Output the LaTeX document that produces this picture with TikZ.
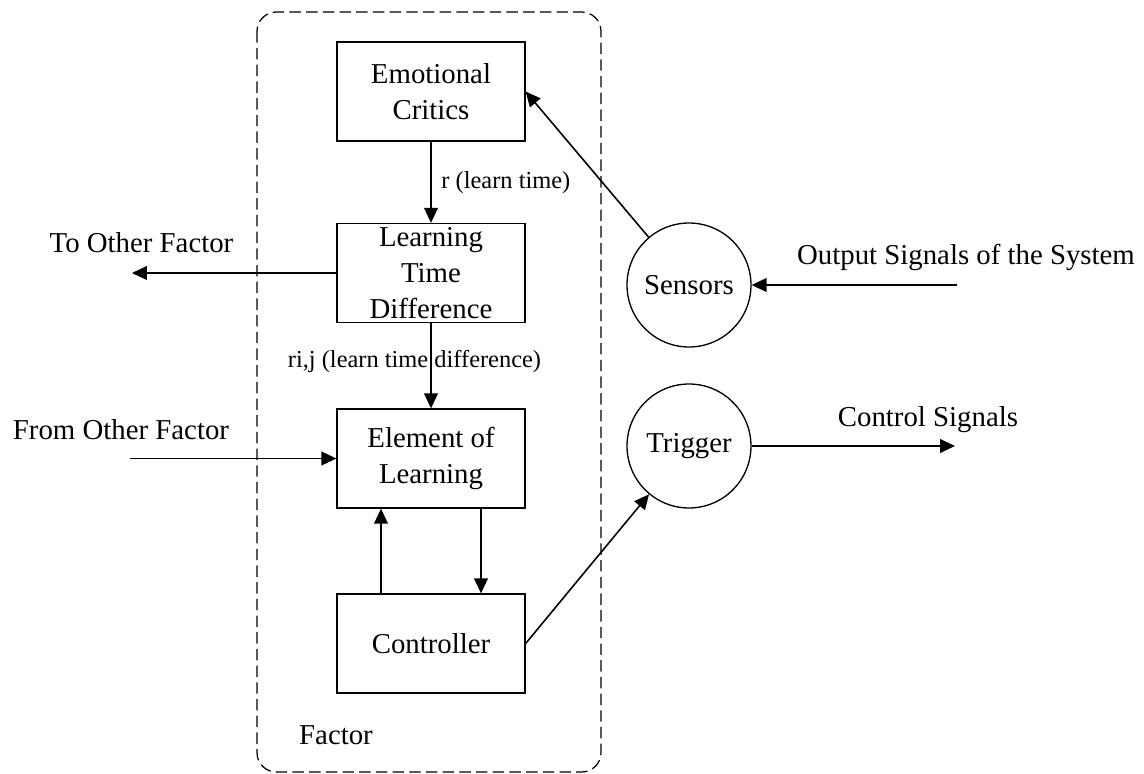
\documentclass[tikz,border=0pt]{standalone}
\usepackage{fontspec}
\setmainfont{Liberation Serif}
\usetikzlibrary{arrows.meta,positioning}

\tikzset{
    block/.style={draw, line width=0.75pt, minimum width=3.76cm, minimum height=1.98cm,
                  inner sep=1pt, align=center, font=\fontsize{16.4}{20.4}\selectfont},
    sensor/.style={draw, circle, line width=0.75pt, minimum size=2.48cm, inner sep=0pt,
                   font=\fontsize{16.4}{20.4}\selectfont},
    txt/.style={inner sep=0pt, font=\fontsize{16.4}{20.4}\selectfont},
    lbl/.style={inner sep=0pt, font=\fontsize{13.9}{16}\selectfont},
    arr/.style={line width=0.9pt, -{Triangle[length=8.5pt,width=7.8pt]}},
    plain/.style={line width=0.9pt}
}

\begin{document}
\begin{tikzpicture}[x=0.02cm, y=-0.02cm]
    \useasboundingbox (0,0) rectangle (1144,774);
    % factor frame
    \draw[line width=0.7pt, dash pattern=on 6.5pt off 3pt, rounded corners=11pt]
        (257,12) rectangle (601,772);
    \node[txt] (factor) at (336,735) {Factor};

    % blocks
    \node[block] (ec) at (431,91.5) {Emotional\\Critics};
    \node[block] (ltd) at (431,273) {Learning\\Time\\Difference};
    \node[block] (elem) at (431,458.5) {Element of\\Learning};
    \node[block] (ctrl) at (431,643.5) {Controller};

    \node[sensor] (sens) at (689,285) {Sensors};
    \node[sensor] (trig) at (689,446) {Trigger};

    % free ends
    \coordinate (toend) at (132,273);
    \coordinate (fromend) at (130,458.5);
    \coordinate (outend) at (957,285);
    \coordinate (ctlend) at (955,446);

    % labels
    \node[txt] (tolbl) at (141.5,243) {To Other Factor};
    \node[txt] (fromlbl) at (121,430) {From Other Factor};
    \node[txt] (outlbl) at (966,257) {Output Signals of the System};
    \node[txt] (ctllbl) at (928,420) {Control Signals};

    % connectors
    \draw[arr] (ec) -- node[lbl, right=5.5pt] {r (learn time)} (ltd);
    \draw[arr] (ltd) -- node[lbl, xshift=-0.33cm, yshift=0.08cm] {ri,j (learn time difference)} (elem);
    \draw[arr] ([xshift=-1cm]ctrl.north) -- ([xshift=-1cm]elem.south);
    \draw[arr] ([xshift=1cm]elem.south) -- ([xshift=1cm]ctrl.north);
    \draw[arr] (ltd) -- (toend);
    \draw[arr] (fromend) -- (elem);
    \draw[arr] (sens) -- (ec.east);
    \draw[arr] (outend) -- (sens);
    \draw[arr] (ctrl.east) -- (trig);
    \draw[arr] (trig) -- (ctlend);
\end{tikzpicture}
\end{document}
